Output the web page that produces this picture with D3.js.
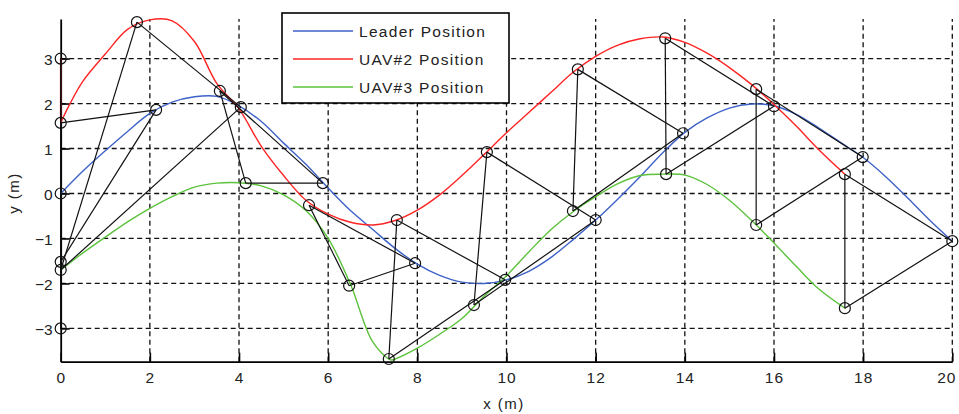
<!DOCTYPE html>
<html>
<head>
<meta charset="utf-8">
<script src="https://cdn.jsdelivr.net/npm/d3@7"></script>
<style>
  html, body { margin: 0; padding: 0; background: #fff; }
  svg { display: block; }
  text { font-family: "Liberation Sans", Arial, sans-serif; fill: #222; }
</style>
</head>
<body>
<svg id="chart" width="959" height="414"></svg>
<script>
// Trajectories (x, y in metres)
const leaderPath = [
  [0,0],[0.5,0.5],[1,0.95],[1.5,1.38],[2,1.78],[2.5,2.03],[3,2.15],[3.5,2.16],[4,1.95],
  [4.5,1.6],[5,1.12],[5.5,0.65],[6,0.12],[6.5,-0.38],[7,-0.8],[7.5,-1.22],[8,-1.57],
  [8.5,-1.82],[9,-1.97],[9.5,-2.0],[10,-1.92],[10.5,-1.73],[11,-1.42],[11.5,-1.02],
  [12,-0.59],[12.5,-0.12],[13,0.38],[13.5,0.9],[14,1.36],[14.5,1.68],[15,1.9],[15.5,1.99],
  [16,1.95],[16.5,1.76],[17,1.46],[17.5,1.13],[18,0.8],[18.5,0.38],[19,-0.1],[19.5,-0.6],[20,-1.06]
];
const uav2Jump = [[0,3],[0,1.57]];
const uav2Path = [
  [0,1.57],[0.2,1.98],[0.5,2.5],[1,3.1],[1.5,3.65],[2,3.86],[2.5,3.84],[3,3.38],[3.5,2.45],
  [4,1.88],[4.5,1.05],[5,0.4],[5.5,-0.15],[6,-0.46],[6.5,-0.64],[7,-0.7],[7.5,-0.6],[8,-0.37],
  [8.5,-0.03],[9,0.4],[9.5,0.87],[10,1.35],[10.5,1.8],[11,2.25],[11.5,2.7],[12,3.05],[12.5,3.3],
  [13,3.44],[13.5,3.48],[14,3.36],[14.5,3.12],[15,2.8],[15.5,2.42],[16,1.98],[16.5,1.5],[17,0.98],[17.59,0.43]
];
const uav3Path = [
  [0,-1.7],[0.5,-1.32],[1,-0.97],[1.5,-0.63],[2,-0.33],[2.5,-0.07],[3,0.14],[3.5,0.23],[4,0.24],
  [4.5,0.17],[5,-0.03],[5.5,-0.38],[6,-1.0],[6.5,-2.02],[7,-3.3],[7.4,-3.7],[7.5,-3.68],[8,-3.44],
  [8.5,-3.13],[9,-2.78],[9.5,-2.28],[10,-1.83],[10.5,-1.3],[11,-0.8],[11.5,-0.4],[12,-0.07],
  [12.5,0.22],[13,0.4],[13.5,0.43],[14,0.41],[14.5,0.2],[15,-0.15],[15.5,-0.6],[16,-1.1],
  [16.5,-1.62],[17,-2.12],[17.59,-2.55]
];

// Formation snapshots: positions of each vehicle at the same instants
const leaderSnap = [[0,0],[2.14,1.86],[4.04,1.92],[5.88,0.23],[7.95,-1.55],[9.97,-1.92],
  [12.0,-0.59],[13.96,1.34],[16.0,1.94],[17.99,0.81],[20,-1.06]];
const uav2Snap = [[0,3],[0,1.57],[1.71,3.81],[3.57,2.28],[5.57,-0.26],[7.54,-0.59],
  [9.56,0.92],[11.6,2.76],[13.56,3.45],[15.6,2.32],[17.59,0.43]];
const uav3Snap = [[0,-3],[0,-1.52],[0,-1.7],[4.15,0.23],[6.47,-2.05],[7.36,-3.68],
  [9.27,-2.48],[11.49,-0.39],[13.58,0.43],[15.6,-0.7],[17.59,-2.55]];

const xTickValues = [0,2,4,6,8,10,12,14,16,18,20];
const yTickValues = [-3,-2,-1,0,1,2,3];
const seriesNames = ["Leader Position", "UAV#2 Position", "UAV#3 Position"];
const seriesColors = ["#3d62c8", "#ff2424", "#5cc23c"];

const svg = d3.select("#chart");
svg.append("rect").attr("width", 959).attr("height", 414).attr("fill", "#fff");

const x = d3.scaleLinear().domain([0, 20]).range([60.7, 952.3]);
const y = d3.scaleLinear().domain([-3.74, 3.88]).range([361.7, 19]);

// dashed grid
const grid = svg.append("g").attr("stroke", "#111").attr("stroke-width", 1.3)
  .attr("stroke-dasharray", "5,3.5");
grid.selectAll(".gx").data(xTickValues.filter(d => d > 0)).join("line")
  .attr("x1", d => x(d)).attr("x2", d => x(d))
  .attr("y1", y.range()[0]).attr("y2", y.range()[1]);
grid.selectAll(".gy").data(yTickValues).join("line")
  .attr("x1", x.range()[0]).attr("x2", x.range()[1])
  .attr("y1", d => y(d)).attr("y2", d => y(d));

// axes with inward ticks
const xAxis = d3.axisBottom(x).tickValues(xTickValues).tickSizeInner(-9).tickSizeOuter(0)
  .tickPadding(18).tickFormat(d3.format("d"));
const yAxis = d3.axisLeft(y).tickValues(yTickValues).tickSizeInner(-9).tickSizeOuter(0)
  .tickPadding(18).tickFormat(d3.format("d"));

const gx = svg.append("g").attr("transform", `translate(0,${y.range()[0]})`).call(xAxis);
const gy = svg.append("g").attr("transform", `translate(${x.range()[0]},0)`).call(yAxis);
[gx, gy].forEach(g => {
  g.select(".domain").attr("stroke", "#000").attr("stroke-width", 1.8);
  g.selectAll(".tick line").attr("stroke", "#000").attr("stroke-width", 1.6);
  g.selectAll(".tick text").attr("fill", "#222").style("font-size", "15.5px")
    .style("font-family", "'Liberation Sans', Arial, sans-serif");
});
gx.selectAll(".tick text").attr("dy", "0.2em").style("letter-spacing", "1px");
// keep the last x label inside the page edge
gx.selectAll(".tick text").filter(d => d === 20).attr("x", -6);
gy.selectAll(".tick text").attr("x", -8).attr("dy", "0.36em");

// axis titles
svg.append("text").attr("x", 504).attr("y", 409).attr("text-anchor", "middle")
  .style("font-size", "15px").style("letter-spacing", "1.5px").text("x (m)");
svg.append("text").attr("transform", "translate(19,193) rotate(-90)").attr("text-anchor", "middle")
  .style("font-size", "15px").style("letter-spacing", "1.5px").text("y (m)");

// trajectories
const smooth = d3.line().x(d => x(d[0])).y(d => y(d[1])).curve(d3.curveCatmullRom.alpha(0.5));
const straight = d3.line().x(d => x(d[0])).y(d => y(d[1]));
const paths = [leaderPath, uav2Path, uav3Path];
paths.forEach((p, i) => {
  svg.append("path").attr("d", smooth(p)).attr("fill", "none")
    .attr("stroke", seriesColors[i]).attr("stroke-width", 1.4);
});
svg.append("path").attr("d", straight(uav2Jump)).attr("fill", "none")
  .attr("stroke", seriesColors[1]).attr("stroke-width", 1.6);

// formation triangles
const tri = svg.append("g").attr("stroke", "#111").attr("stroke-width", 1.2).attr("fill", "none");
leaderSnap.forEach((L, k) => {
  const A = uav2Snap[k], B = uav3Snap[k];
  [[A, L], [B, L], [A, B]].forEach(seg => {
    tri.append("path").attr("d", straight(seg));
  });
});

// markers
const allSnaps = leaderSnap.concat(uav2Snap, uav3Snap);
svg.append("g").selectAll("circle").data(allSnaps).join("circle")
  .attr("cx", d => x(d[0])).attr("cy", d => y(d[1])).attr("r", 5.5)
  .attr("fill", "none").attr("stroke", "#111").attr("stroke-width", 1.2);

// legend
const lg = svg.append("g");
lg.append("rect").attr("x", 282).attr("y", 13).attr("width", 227).attr("height", 90)
  .attr("fill", "#fff").attr("stroke", "#000").attr("stroke-width", 1.6);
seriesNames.forEach((name, i) => {
  const yy = 31 + i * 28;
  lg.append("line").attr("x1", 293).attr("x2", 353).attr("y1", yy).attr("y2", yy)
    .attr("stroke", seriesColors[i]).attr("stroke-width", 1.6);
  lg.append("text").attr("x", 359).attr("y", yy).attr("dy", "0.36em")
    .style("font-size", "15.5px").style("letter-spacing", "1.3px").text(name);
});
</script>
</body>
</html>
